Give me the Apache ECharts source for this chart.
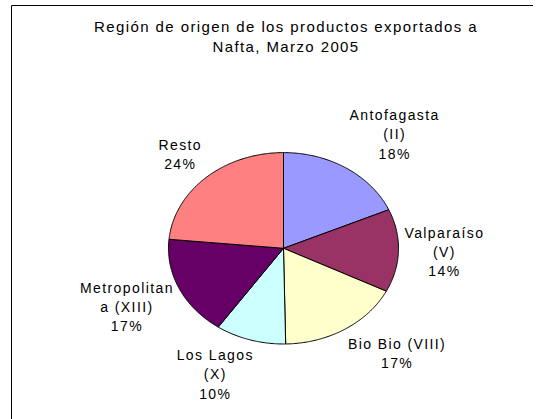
<!DOCTYPE html>
<html>
<head>
<meta charset="utf-8">
<script src="https://cdn.jsdelivr.net/npm/echarts@6/dist/echarts.min.js"></script>
<style>
  html, body { margin: 0; padding: 0; background: #fff; }
  #chart { width: 542px; height: 419px; }
  /* the old Excel export draws its text with wide spacing */
  #chart text { letter-spacing: 1.4px; }
</style>
</head>
<body>
<div id="chart"></div>
<script>
const regions = ['Antofagasta\n(II)', 'Valparaíso\n(V)', 'Bio Bio (VIII)', 'Los Lagos\n(X)', 'Metropolitan\na (XIII)', 'Resto']
const shares = [18.4, 14.0, 17.3, 9.9, 16.9, 23.5]
const colors = ['#9999FF', '#993366', '#FFFFCC', '#CCFFFF', '#660066', '#FF8080']
const titleText = 'Región de origen de los productos exportados a\nNafta, Marzo 2005'

const total = shares.reduce((a, b) => a + b, 0)
const starts = shares.map((_, i) => shares.slice(0, i).reduce((a, b) => a + b, 0))

// pie is slightly tilted in the original, so it is drawn as an ellipse
const cx = 283.5, cy = 248.3, rx = 115, ry = 95.7
const labelFont = '14px "Liberation Sans", Arial, sans-serif'
const lineH = 19.2
const spacing = 1.4

const measureCtx = document.createElement('canvas').getContext('2d')
measureCtx.font = labelFont
const textWidth = (s) => measureCtx.measureText(s).width + spacing * s.length
const clamp = (v) => Math.max(-1, Math.min(1, v))

const renderSlice = (params, api) => {
  const i = params.dataIndex
  const value = api.value(0)
  const a0 = starts[i] / total * Math.PI * 2
  const a1 = (starts[i] + value) / total * Math.PI * 2
  const pt = (a) => [cx + rx * Math.sin(a), cy - ry * Math.cos(a)]

  const points = [[cx, cy]]
  const steps = Math.max(2, Math.ceil((a1 - a0) / 0.01))
  for (let k = 0; k <= steps; k++) points.push(pt(a0 + (a1 - a0) * k / steps))

  // label sits just outside the slice middle, box pushed away from the pie
  const mid = (a0 + a1) / 2
  const s = Math.sin(mid), c = Math.cos(mid)
  const [px, py] = pt(mid)
  const text = regions[i] + '\n' + Math.round(value / total * 100) + '%'
  const lines = text.split('\n')
  const w = Math.max(...lines.map(textWidth))
  const h = lines.length * lineH
  const gap = 6
  const lx = px + s * gap + clamp(s * 3) * w / 2
  const ly = py - c * gap + clamp(-c * 1.3) * h / 2

  return {
    type: 'group',
    children: [
      {
        type: 'polygon',
        shape: { points },
        style: { fill: colors[i], stroke: '#000', lineWidth: 1 }
      },
      {
        type: 'text',
        style: {
          text, x: lx, y: ly,
          align: 'center', verticalAlign: 'middle',
          font: labelFont, lineHeight: lineH, fill: '#000'
        }
      }
    ]
  }
}

const chart = echarts.init(document.getElementById('chart'), null, { renderer: 'svg' })
chart.setOption({
  animation: false,
  backgroundColor: '#fff',
  title: {
    text: titleText,
    left: 281,
    top: 11,
    textAlign: 'center',
    textStyle: {
      fontFamily: '"Liberation Sans", Arial, sans-serif',
      fontSize: 15,
      fontWeight: 'normal',
      color: '#000',
      lineHeight: 20
    }
  },
  graphic: [
    {
      type: 'polyline',
      shape: { points: [[11.5, 419], [11.5, 5.5], [533, 5.5]] },
      style: { stroke: '#000', fill: null, lineWidth: 1 }
    }
  ],
  series: [
    {
      type: 'custom',
      coordinateSystem: 'none',
      renderItem: renderSlice,
      data: shares.map((v) => [v])
    }
  ]
})
</script>
</body>
</html>
